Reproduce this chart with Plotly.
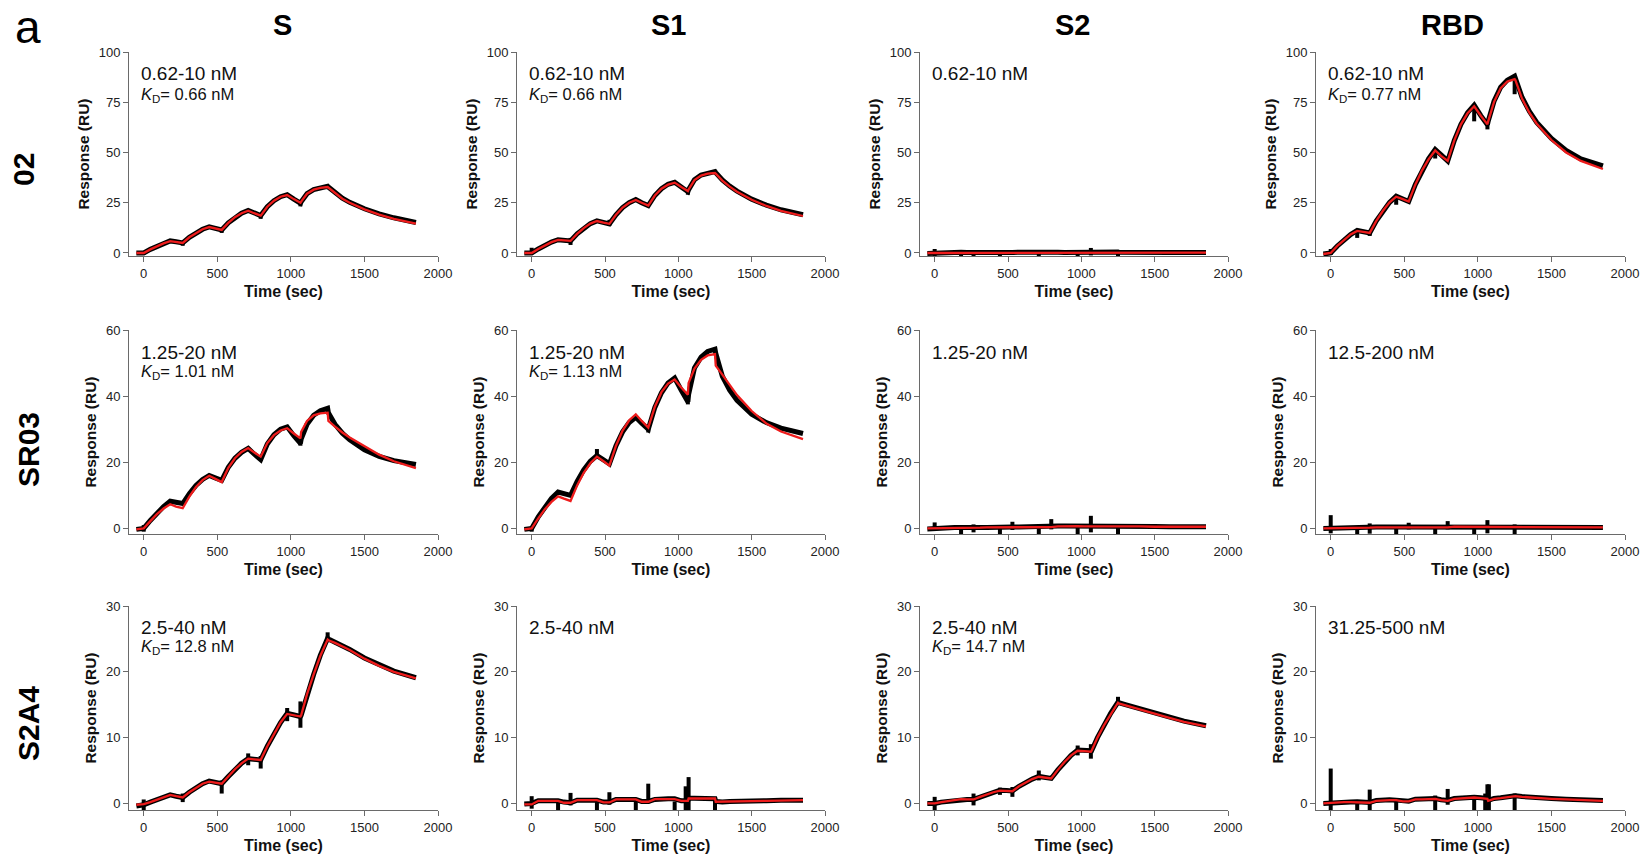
import plotly.graph_objects as go

# ---------------- data ----------------
COLUMNS = ["S", "S1", "S2", "RBD"]
ROWS = ["02", "SR03", "S2A4"]

TIME = [-50, 0, 45, 90, 135, 180, 220, 265, 310, 355, 400, 445, 490, 530, 575, 620, 665, 710,
        750, 795, 840, 885, 930, 975, 1020, 1065, 1070, 1110, 1155, 1200, 1250, 1255, 1300,
        1350, 1400, 1500, 1600, 1700, 1850]

X_TICKS = [0, 500, 1000, 1500, 2000]
Y_TICKS_02 = [0, 25, 50, 75, 100]
Y_TICKS_SR03 = [0, 20, 40, 60]
Y_TICKS_S2A4 = [0, 10, 20, 30]

# ---- row 02 ----
ab02_S_data = [0, 0, 1.8, 3.4, 4.8, 6.0, 5.6, 5.0, 7.8, 10.0, 11.8, 13.0, 12.3, 11.5, 15.0, 17.8, 19.8, 21.2,
               19.9, 18.6, 23.0, 26.0, 28.0, 29.0, 26.8, 24.8, 25.5, 29.5, 31.5, 32.6, 33.2, 32.8, 29.8,
               27.3, 25.2, 22.0, 19.5, 17.5, 15.2]
ab02_S_fit = [0, 0, 1.8, 3.4, 4.8, 5.9, 5.5, 5.0, 7.8, 10.0, 11.8, 12.9, 12.2, 11.5, 15.0, 17.8, 19.8, 21.0,
              19.8, 18.6, 23.0, 26.0, 28.0, 28.8, 26.8, 25.0, 25.6, 29.5, 31.5, 32.4, 32.8, 32.5, 29.6,
              27.0, 25.0, 21.7, 19.1, 17.0, 14.6]
ab02_S_spikes = [[0, -0.8, 1.0], [265, 3.6, 5.6], [530, 10.0, 12.0], [795, 17.0, 19.0], [1065, 23.2, 26.0]]

ab02_S1_data = [0, 0, 2.0, 3.9, 5.4, 6.6, 6.3, 6.0, 9.5, 12.4, 14.6, 16.0, 15.2, 14.5, 19.0, 22.6, 25.0, 26.6,
                25.0, 23.6, 28.6, 32.0, 34.2, 35.2, 32.8, 30.5, 31.5, 36.5, 38.8, 39.8, 40.5, 40.0, 36.3,
                33.3, 30.8, 26.8, 23.8, 21.5, 19.0]
ab02_S1_fit = [0, 0, 2.0, 3.9, 5.4, 6.5, 6.2, 6.0, 9.5, 12.4, 14.6, 15.9, 15.1, 14.5, 19.0, 22.6, 25.0, 26.4,
               25.0, 23.6, 28.6, 32.0, 34.0, 35.0, 32.8, 30.8, 31.6, 36.3, 38.5, 39.5, 39.8, 39.5, 36.0,
               33.0, 30.5, 26.5, 23.4, 21.0, 18.4]
ab02_S1_spikes = [[0, -0.5, 2.6], [265, 4.0, 7.5], [530, 13.5, 16.5], [1065, 29.0, 32.0]]

ab02_S2_data = [-0.2, 0.0, 0.3, 0.4, 0.3, 0.4, 0.3, 0.2, 0.4, 0.3, 0.4, 0.3, 0.2, 0.3, 0.4, 0.3, 0.3, 0.4,
                0.3, 0.5, 0.4, 0.3, 0.4, 0.5, 0.3, 0.4, 0.6, 0.5, 0.4, 0.4, 0.5, 0.4, 0.3, 0.3, 0.2, 0.3,
                0.2, 0.3, 0.2]
ab02_S2_fit = [0.0, 0.0, 0.1, 0.2, 0.2, 0.2, 0.2, 0.2, 0.2, 0.2, 0.3, 0.3, 0.3, 0.3, 0.3, 0.3, 0.3, 0.3,
               0.3, 0.3, 0.3, 0.3, 0.3, 0.3, 0.3, 0.3, 0.3, 0.3, 0.3, 0.3, 0.3, 0.3, 0.3, 0.3, 0.3, 0.3,
               0.2, 0.2, 0.2]
ab02_S2_spikes = [[0, -1.5, 2.0], [180, -1.8, 0.3], [265, -1.8, 1.5], [445, -1.8, 0.3], [530, -1.0, 1.5],
                  [710, -1.8, 0.3], [795, -0.5, 1.2], [975, -1.8, 0.3], [1065, -1.2, 2.5], [1250, -1.8, 0.3]]

ab02_RBD_data = [-0.5, 0, 3.5, 6.6, 9.2, 11.2, 10.6, 10.0, 16.0, 21.0, 25.2, 28.3, 26.9, 25.6, 34.0, 41.0,
                 46.8, 51.5, 48.5, 45.8, 56.0, 64.0, 69.8, 73.5, 68.3, 63.8, 65.5, 75.5, 82.5, 86.0, 88.0,
                 87.0, 77.5, 70.5, 65.0, 57.0, 51.0, 46.8, 43.3]
ab02_RBD_fit = [-0.5, 0, 3.5, 6.6, 9.2, 11.0, 10.5, 10.0, 16.0, 21.0, 25.2, 28.0, 26.8, 25.6, 34.0, 41.0,
                46.6, 51.0, 48.3, 45.8, 56.0, 64.0, 69.5, 73.0, 68.3, 64.0, 65.5, 75.2, 82.0, 85.3, 86.5,
                86.0, 76.8, 69.8, 64.3, 56.2, 50.0, 45.8, 41.8]
ab02_RBD_spikes = [[0, -1.0, 2.0], [180, 7.5, 11.0], [265, 8.5, 10.5], [445, 24.0, 28.0], [710, 47.0, 51.0],
                   [975, 65.5, 73.0], [1065, 61.5, 64.0], [1250, 79.0, 88.0]]

# ---- row SR03 ----
sr03_S_data = [-0.3, 0, 2.4, 4.6, 6.6, 8.2, 7.8, 7.5, 10.5, 13.0, 14.8, 16.0, 15.2, 14.5, 18.5, 21.2, 23.0,
               24.2, 22.5, 20.8, 25.5, 28.3, 30.0, 30.7, 28.0, 25.7, 27.0, 31.5, 34.2, 35.6, 36.3, 35.0, 31.5,
               28.8, 26.8, 23.8, 21.8, 20.5, 19.3]
sr03_S_fit = [-0.3, 0, 2.2, 4.3, 6.0, 7.3, 6.6, 6.1, 9.6, 12.5, 14.6, 15.9, 14.9, 14.0, 18.3, 21.2, 23.1,
              24.3, 23.0, 21.7, 25.8, 28.2, 29.6, 30.3, 28.7, 27.2, 29.2, 32.5, 34.2, 34.8, 35.0, 32.5, 30.8,
              29.0, 27.5, 24.8, 22.3, 20.3, 18.2]
sr03_S_spikes = [[0, -1.0, 1.0], [180, 7.0, 8.6], [1065, 25.0, 27.0]]

sr03_S1_data = [-0.3, 0, 3.5, 6.6, 9.1, 11.0, 10.4, 10.0, 14.2, 17.7, 20.3, 22.0, 20.7, 19.5, 25.0, 29.2,
                32.0, 33.6, 31.8, 30.0, 36.6, 41.0, 44.0, 45.5, 41.8, 38.3, 40.5, 48.5, 51.8, 53.5, 54.2,
                53.0, 46.0, 41.8, 38.7, 34.5, 32.0, 30.3, 28.7]
sr03_S1_fit = [-0.3, 0, 3.0, 5.8, 8.0, 9.7, 9.0, 8.3, 13.0, 16.8, 19.7, 21.7, 20.3, 19.0, 25.0, 29.6, 32.7,
               34.5, 32.5, 30.5, 36.8, 41.2, 43.8, 45.0, 42.6, 40.4, 44.0, 48.3, 51.0, 52.3, 52.7, 49.2,
               46.5, 43.2, 40.3, 35.5, 31.7, 29.3, 27.0]
sr03_S1_spikes = [[0, -1.0, 0.5], [445, 21.0, 24.0], [795, 29.0, 31.0], [1065, 37.5, 40.0]]

sr03_S2_data = [-0.2, 0.0, 0.2, 0.3, 0.3, 0.3, 0.2, 0.2, 0.3, 0.3, 0.4, 0.4, 0.3, 0.4, 0.4, 0.5, 0.5, 0.5,
                0.5, 0.6, 0.7, 0.7, 0.7, 0.8, 0.7, 0.7, 0.9, 0.9, 0.9, 0.9, 0.9, 0.8, 0.7, 0.7, 0.6, 0.6,
                0.5, 0.5, 0.5]
sr03_S2_fit = [0.0, 0.0, 0.1, 0.2, 0.2, 0.2, 0.1, 0.1, 0.2, 0.3, 0.3, 0.3, 0.3, 0.3, 0.4, 0.4, 0.4, 0.5,
               0.4, 0.4, 0.6, 0.7, 0.7, 0.7, 0.6, 0.6, 0.8, 0.8, 0.8, 0.8, 0.8, 0.7, 0.7, 0.6, 0.6, 0.5,
               0.5, 0.5, 0.5]
sr03_S2_spikes = [[0, -0.5, 1.8], [180, -2.5, 0.3], [265, -1.2, 1.2], [445, -2.5, 0.3], [530, -0.5, 2.0],
                  [710, -2.5, 0.3], [795, -0.3, 2.8], [975, -2.5, 0.6], [1065, -1.2, 3.8], [1250, -2.5, 1.2]]

sr03_RBD_data = [0.0, 0.1, 0.2, 0.2, 0.3, 0.3, 0.3, 0.3, 0.4, 0.4, 0.4, 0.4, 0.3, 0.4, 0.4, 0.5, 0.5, 0.5,
                 0.4, 0.5, 0.6, 0.6, 0.6, 0.6, 0.5, 0.5, 0.6, 0.6, 0.6, 0.5, 0.5, 0.5, 0.4, 0.4, 0.4, 0.3,
                 0.3, 0.3, 0.3]
sr03_RBD_fit = [0.0, 0.0, 0.1, 0.2, 0.2, 0.2, 0.2, 0.2, 0.3, 0.3, 0.3, 0.3, 0.3, 0.2, 0.3, 0.4, 0.4, 0.4,
                0.3, 0.3, 0.5, 0.5, 0.5, 0.5, 0.5, 0.4, 0.5, 0.5, 0.5, 0.5, 0.5, 0.4, 0.4, 0.4, 0.3, 0.3,
                0.3, 0.3, 0.3]
sr03_RBD_spikes = [[0, -1.5, 4.0], [180, -2.5, 0.4], [265, -1.6, 1.5], [445, -2.5, 0.5], [530, -0.3, 1.7],
                   [710, -2.5, 0.5], [795, -0.3, 2.2], [975, -1.8, 0.6], [1065, -1.5, 2.5], [1250, -2.2, 1.2]]

# ---- row S2A4 ----
s2a4_S_data = [-0.4, -0.2, 0.2, 0.6, 1.0, 1.3, 1.1, 0.9, 1.7, 2.4, 3.0, 3.4, 3.2, 3.0, 4.1, 5.2, 6.1, 6.8,
               6.7, 6.6, 8.7, 10.6, 12.3, 13.7, 13.4, 13.2, 13.4, 16.6, 19.6, 22.5, 25.1, 25.0, 24.5, 24.0,
               23.4, 22.1, 21.0, 20.1, 19.1]
s2a4_S_fit = [-0.2, -0.1, 0.2, 0.6, 1.0, 1.3, 1.1, 0.9, 1.7, 2.4, 3.0, 3.3, 3.1, 3.0, 4.1, 5.2, 6.1, 6.8,
              6.7, 6.6, 8.7, 10.6, 12.3, 13.6, 13.4, 13.2, 13.4, 16.6, 19.6, 22.4, 24.9, 24.8, 24.4, 23.9,
              23.3, 22.0, 20.9, 20.0, 19.0]
s2a4_S_spikes = [[0, -1.0, 0.6], [265, 0.2, 1.5], [530, 1.5, 3.5], [710, 5.8, 7.6], [795, 5.3, 7.2],
                 [975, 12.5, 14.5], [1065, 11.5, 15.5], [1250, 24.5, 26.0]]

s2a4_S1_data = [-0.1, 0.0, 0.4, 0.4, 0.4, 0.4, 0.2, 0.1, 0.5, 0.5, 0.5, 0.5, 0.2, 0.2, 0.6, 0.6, 0.6, 0.6,
                0.3, 0.3, 0.6, 0.7, 0.7, 0.7, 0.4, 0.4, 0.8, 0.8, 0.8, 0.8, 0.7, 0.3, 0.2, 0.3, 0.3, 0.4,
                0.4, 0.5, 0.5]
s2a4_S1_fit = [-0.15, -0.15, 0.4, 0.4, 0.4, 0.4, 0.1, 0.1, 0.5, 0.5, 0.5, 0.5, 0.15, 0.15, 0.6, 0.6, 0.6,
               0.6, 0.25, 0.25, 0.65, 0.65, 0.65, 0.65, 0.4, 0.4, 0.75, 0.75, 0.75, 0.75, 0.75, 0.25, 0.25,
               0.3, 0.3, 0.35, 0.4, 0.45, 0.5]
s2a4_S1_spikes = [[0, -0.8, 1.1], [180, -1.5, 0.2], [265, -0.3, 1.6], [445, -1.5, 0.2], [530, -0.2, 1.7],
                  [710, -1.5, 0.3], [795, 0.0, 3.0], [975, -1.5, 0.3], [1050, -1.0, 2.6], [1070, -1.0, 4.0],
                  [1250, -1.5, 0.5]]

s2a4_S2_data = [0.0, 0.0, 0.2, 0.35, 0.5, 0.65, 0.6, 0.6, 1.0, 1.4, 1.7, 2.0, 1.95, 1.9, 2.6, 3.2, 3.7, 4.1,
                4.0, 3.8, 5.1, 6.3, 7.3, 8.1, 8.0, 7.9, 8.0, 10.0, 11.9, 13.7, 15.4, 15.3, 15.0, 14.7, 14.4,
                13.7, 13.1, 12.5, 11.8]
s2a4_S2_fit = [0.0, 0.0, 0.2, 0.35, 0.5, 0.65, 0.6, 0.6, 1.0, 1.4, 1.7, 1.95, 1.9, 1.85, 2.6, 3.2, 3.7, 4.05,
               3.95, 3.8, 5.1, 6.3, 7.3, 8.0, 7.95, 7.85, 8.0, 10.0, 11.9, 13.6, 15.3, 15.2, 14.9, 14.6,
               14.3, 13.6, 13.0, 12.4, 11.7]
s2a4_S2_spikes = [[0, -1.0, 1.0], [265, -0.3, 1.5], [445, 1.3, 2.4], [530, 1.0, 2.5], [710, 3.5, 5.0],
                  [975, 7.3, 8.8], [1065, 6.8, 9.0], [1250, 15.0, 16.2]]

s2a4_RBD_data = [0.0, 0.1, 0.2, 0.25, 0.2, 0.25, 0.15, 0.15, 0.45, 0.55, 0.55, 0.5, 0.35, 0.35, 0.65, 0.65,
                 0.7, 0.75, 0.55, 0.45, 0.75, 0.85, 0.85, 0.95, 0.85, 0.75, 0.45, 0.75, 0.85, 0.95, 1.05,
                 1.15, 1.05, 0.95, 0.85, 0.75, 0.65, 0.55, 0.45]
s2a4_RBD_fit = [0.0, 0.1, 0.2, 0.2, 0.2, 0.2, 0.1, 0.1, 0.4, 0.5, 0.5, 0.5, 0.3, 0.3, 0.6, 0.6, 0.7, 0.7,
                0.5, 0.4, 0.7, 0.8, 0.8, 0.9, 0.8, 0.7, 0.4, 0.7, 0.8, 0.9, 1.0, 1.1, 1.0, 0.9, 0.8, 0.7,
                0.6, 0.5, 0.4]
s2a4_RBD_spikes = [[0, -1.0, 5.3], [180, -1.5, 0.3], [265, -1.2, 2.1], [445, -1.5, 0.4], [710, -1.2, 1.2],
                   [795, -0.2, 2.2], [975, -1.5, 1.0], [1050, -1.5, 1.5], [1065, -1.5, 2.9], [1075, -1.0, 2.9],
                   [1250, -1.5, 1.5]]

CONC_02 = ["0.62-10 nM", "0.62-10 nM", "0.62-10 nM", "0.62-10 nM"]
KD_02 = ["0.66 nM", "0.66 nM", None, "0.77 nM"]
CONC_SR03 = ["1.25-20 nM", "1.25-20 nM", "1.25-20 nM", "12.5-200 nM"]
KD_SR03 = ["1.01 nM", "1.13 nM", None, None]
CONC_S2A4 = ["2.5-40 nM", "2.5-40 nM", "2.5-40 nM", "31.25-500 nM"]
KD_S2A4 = ["12.8 nM", None, "14.7 nM", None]

# ---------------- layout helpers ----------------
W, H = 1644, 858
COL_PX = [(129, 438), (517, 825), (920, 1228), (1316, 1625)]
ROW_PX = [(52, 256), (330, 534), (606, 810)]
Y_RANGES = [[-1.5, 100], [-1.7, 60], [-1.0, 30]]
Y_TICKS = [Y_TICKS_02, Y_TICKS_SR03, Y_TICKS_S2A4]
FONT = "Liberation Sans, Arial, Helvetica, sans-serif"

panel_data = [
    [(ab02_S_data, ab02_S_fit, ab02_S_spikes), (ab02_S1_data, ab02_S1_fit, ab02_S1_spikes),
     (ab02_S2_data, ab02_S2_fit, ab02_S2_spikes), (ab02_RBD_data, ab02_RBD_fit, ab02_RBD_spikes)],
    [(sr03_S_data, sr03_S_fit, sr03_S_spikes), (sr03_S1_data, sr03_S1_fit, sr03_S1_spikes),
     (sr03_S2_data, sr03_S2_fit, sr03_S2_spikes), (sr03_RBD_data, sr03_RBD_fit, sr03_RBD_spikes)],
    [(s2a4_S_data, s2a4_S_fit, s2a4_S_spikes), (s2a4_S1_data, s2a4_S1_fit, s2a4_S1_spikes),
     (s2a4_S2_data, s2a4_S2_fit, s2a4_S2_spikes), (s2a4_RBD_data, s2a4_RBD_fit, s2a4_RBD_spikes)],
]
conc_rows = [CONC_02, CONC_SR03, CONC_S2A4]
kd_rows = [KD_02, KD_SR03, KD_S2A4]


def px_x(p):
    return p / W


def px_y(p):
    return 1 - p / H


fig = go.Figure()
layout = dict(
    template="none",
    width=W, height=H, margin=dict(l=0, r=0, t=0, b=0, pad=0), autosize=False,
    paper_bgcolor="white", plot_bgcolor="white", showlegend=False,
    font=dict(family=FONT, color="#222222", size=13),
)
annotations = []

for r in range(3):
    for c in range(4):
        k = r * 4 + c + 1
        xa = "x" if k == 1 else f"x{k}"
        ya = "y" if k == 1 else f"y{k}"
        data, fit, spikes = panel_data[r][c]
        sx, sy = [], []
        for t, lo, hi in spikes:
            sx += [t, t, None]
            sy += [lo, hi, None]
        fig.add_trace(go.Scatter(x=TIME, y=data, mode="lines", xaxis=xa, yaxis=ya,
                                 line=dict(color="black", width=5), hoverinfo="skip"))
        fig.add_trace(go.Scatter(x=sx, y=sy, mode="lines", xaxis=xa, yaxis=ya,
                                 line=dict(color="black", width=4), hoverinfo="skip"))
        fig.add_trace(go.Scatter(x=TIME, y=fit, mode="lines", xaxis=xa, yaxis=ya,
                                 line=dict(color="#ee1c1c", width=2.3), hoverinfo="skip"))

        x0, x1 = COL_PX[c]
        y0, y1 = ROW_PX[r]
        axis_common = dict(showline=True, linecolor="#6a6a6a", linewidth=1, ticks="outside",
                           ticklen=5, tickwidth=1, tickcolor="#6a6a6a", showgrid=False,
                           zeroline=False, automargin=False, mirror=False,
                           tickfont=dict(size=13, color="#222222", family=FONT))
        layout["xaxis" if k == 1 else f"xaxis{k}"] = dict(
            axis_common, domain=[px_x(x0), px_x(x1)], range=[-100, 2000], tickvals=X_TICKS,
            anchor=ya,
            title=dict(text="<b>Time (sec)</b>", font=dict(size=16, color="#111111", family=FONT),
                       standoff=6))
        layout["yaxis" if k == 1 else f"yaxis{k}"] = dict(
            axis_common, domain=[px_y(y1), px_y(y0)], range=Y_RANGES[r], tickvals=Y_TICKS[r],
            anchor=xa,
            title=dict(text="<b>Response (RU)</b>", font=dict(size=15.5, color="#111111", family=FONT),
                       standoff=5))

        # annotation texts
        tx = px_x(x0 + 10)
        first_y = [73, 352, 627][r]
        kd_y = [95, 372, 647][r]
        annotations.append(dict(text=conc_rows[r][c], x=tx, y=px_y(first_y), xref="paper", yref="paper",
                                xanchor="left", yanchor="middle", showarrow=False,
                                font=dict(size=19, color="#111111", family=FONT)))
        if kd_rows[r][c]:
            annotations.append(dict(text=f"<i>K</i><sub>D</sub>= {kd_rows[r][c]}", x=tx, y=px_y(kd_y),
                                    xref="paper", yref="paper", xanchor="left", yanchor="middle",
                                    showarrow=False, font=dict(size=16.5, color="#111111", family=FONT)))

# column titles
for name, cx in zip(COLUMNS, [282, 668, 1072, 1452]):
    annotations.append(dict(text=f"<b>{name}</b>", x=px_x(cx), y=px_y(25), xref="paper", yref="paper",
                            xanchor="center", yanchor="middle", showarrow=False,
                            font=dict(size=29, color="black", family=FONT)))
# row labels
for name, cx, cy in zip(ROWS, [23, 28, 28], [170, 450, 724]):
    annotations.append(dict(text=f"<b>{name}</b>", x=px_x(cx), y=px_y(cy), xref="paper", yref="paper",
                            xanchor="center", yanchor="middle", showarrow=False, textangle=-90,
                            font=dict(size=30, color="black", family=FONT)))
# panel letter
annotations.append(dict(text="a", x=px_x(28), y=1, xref="paper", yref="paper",
                        xanchor="center", yanchor="top", showarrow=False, borderpad=0,
                        font=dict(size=46, color="black", family=FONT)))

layout["annotations"] = annotations
fig.update_layout(**layout)
fig.write_html("out.html")
